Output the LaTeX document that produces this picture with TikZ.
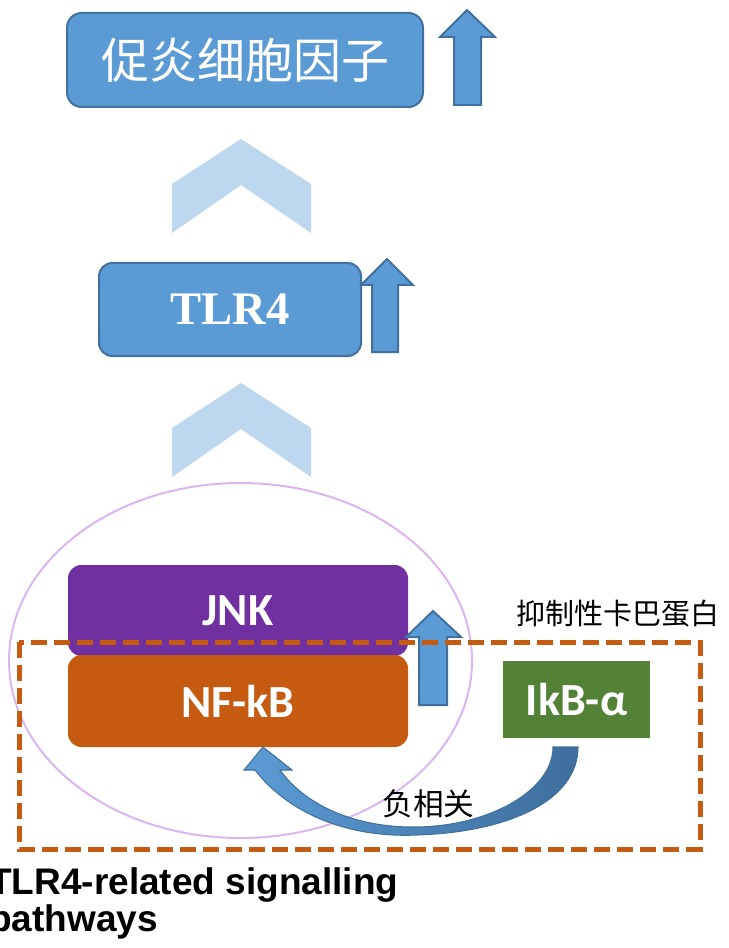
\documentclass[tikz,border=0pt]{standalone}
\usepackage{fontspec}
\usetikzlibrary{shapes.geometric}
\newfontfamily\cjk{Noto Sans CJK SC}
\newfontfamily\carlito{Carlito}
\newfontfamily\tnr{Liberation Serif}
\newfontfamily\arialf{Liberation Sans}
\definecolor{myblue}{HTML}{5B9BD5}
\definecolor{myblueline}{HTML}{41719C}
\definecolor{mydarkblue}{HTML}{3E6E9C}
\definecolor{mylight}{HTML}{BDD7EE}
\definecolor{mypurple}{HTML}{7030A0}
\definecolor{myorange}{HTML}{C55A11}
\definecolor{mygreen}{HTML}{538135}
\definecolor{mylav}{RGB}{218,182,240}
\tikzset{
  bluebox/.style={draw=myblueline, fill=myblue, line width=1.5pt, text=white, inner sep=0pt},
  blockup/.style={draw=myblueline, fill=myblue, line width=1.5pt, line join=miter},
  chev/.style={fill=mylight},
  colbox/.style={text=white, inner sep=0pt, font=\carlito\bfseries\fontsize{34.5}{40}\selectfont},
  dashrect/.style={draw=myorange, line width=3.75pt, dash pattern=on 12pt off 5.25pt},
  plain/.style={text=black, inner sep=0pt},
}
\begin{document}
\begin{tikzpicture}[x=0.75pt,y=-0.75pt]
\useasboundingbox (0,0) rectangle (728,948);
% chevrons
\fill[chev] (172,184) -- (241,139) -- (311,184) -- (311,233) -- (241,185) -- (172,233) -- cycle;
\fill[chev] (172,428) -- (241,383) -- (311,428) -- (311,477) -- (241,429) -- (172,477) -- cycle;
% top box
\node[bluebox, rounded corners=11pt, minimum width=267pt, minimum height=70.5pt,
      font=\cjk\fontsize{36}{40}\selectfont] (cyto) at (245,60) {促炎细胞因子};
\draw[blockup] (454,105) -- (454,37) -- (440,37) -- (467,10) -- (495,37) -- (481,37) -- (481,105) -- cycle;
% TLR4 box
\node[bluebox, rounded corners=10pt, minimum width=196.5pt, minimum height=69.75pt,
      font=\tnr\bfseries\fontsize{35}{40}\selectfont] (tlr) at (230,309.5) {TLR4};
\draw[blockup] (372,352) -- (372,285) -- (361,285) -- (387,259) -- (413,285) -- (398,285) -- (398,352) -- cycle;
% ellipse
\node[draw=mylav, line width=1.5pt, ellipse, minimum width=347.25pt, minimum height=266.25pt, inner sep=0pt] (ell) at (240.5,660.5) {};
% boxes
\node[colbox, fill=mypurple, rounded corners=10pt, minimum width=255pt, minimum height=68.25pt] (jnk) at (238,610.5) {JNK};
\node[colbox, fill=myorange, rounded corners=10pt, minimum width=255pt, minimum height=69pt] (nfkb) at (238,701) {NF-kB};
\node[colbox, fill=mygreen, minimum width=110.25pt, minimum height=57.75pt] (ikb) at (576.5,699.5) {IkB-α};
% middle arrow
\draw[blockup] (419,705) -- (419,637) -- (406,637) -- (433,611) -- (461,637) -- (447,637) -- (447,705) -- cycle;
% curved arrow
\path[left color=myblue, right color=mydarkblue, draw=myblueline, line width=0.8pt, line join=miter]
  (255,770) .. controls (290,815) and (350,838) .. (417,835)
  .. controls (510,832) and (578,800) .. (578,747)
  -- (553,747)
  .. controls (553,790) and (490,826) .. (417,827)
  .. controls (355,828) and (305,805) .. (280,770)
  -- (292,770) -- (263,747) -- (244,770) -- cycle;
% dashed rectangle
\draw[dashrect] (19,642) rectangle (700,849);
% labels
\node[plain, font=\cjk\fontsize{21.75}{24}\selectfont] (inh) at (617.5,614) {抑制性卡巴蛋白};
\node[plain, font=\cjk\fontsize{23}{26}\selectfont] (neg) at (428.5,804) {负相关};
\node[plain, anchor=base west, font=\arialf\bfseries\fontsize{27.75}{30}\selectfont] (cap1) at (-11,894) {TLR4-related signalling};
\node[plain, anchor=base west, font=\arialf\bfseries\fontsize{27.75}{30}\selectfont] (cap2) at (-11,931) {pathways};
\end{tikzpicture}
\end{document}
